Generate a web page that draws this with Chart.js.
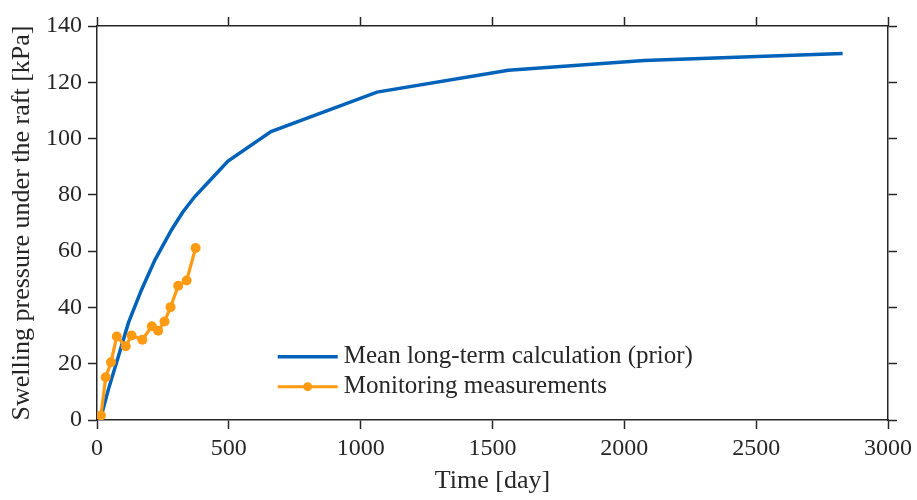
<!DOCTYPE html>
<html>
<head>
<meta charset="utf-8">
<title>Swelling pressure under the raft</title>
<script src="https://cdn.jsdelivr.net/npm/chart.js@4.4.1/dist/chart.umd.min.js"></script>
<style>
  html, body { margin: 0; padding: 0; background: #ffffff; }
  #wrap { position: relative; width: 917px; height: 500px; }
</style>
</head>
<body>
<div id="wrap"><canvas id="pressureChart" width="917" height="500"></canvas></div>
<script>
// --- Data ---
// Mean long-term calculation (prior)
const calcDays = [12, 43, 81, 119, 169, 220, 283, 325, 371, 430, 497, 660, 1062, 1560, 2075, 2828];
const calcPressure = [0, 10.8, 22.6, 34.5, 46.3, 56.9, 67.6, 73.8, 79.4, 85.3, 92.0, 102.5, 116.5, 124.3, 127.7, 130.2];

// Monitoring measurements
const measDays = [15, 33, 53, 75, 109, 131, 172, 208, 232, 256, 279, 308, 340, 374];
const measPressure = [1.6, 15.2, 20.5, 29.7, 26.2, 30.0, 28.5, 33.3, 31.7, 35.0, 40.1, 47.7, 49.6, 61.1];

const seriesLabels = ['Mean long-term calculation (prior)', 'Monitoring measurements'];
const xTitle = 'Time [day]';
const yTitle = 'Swelling pressure under the raft [kPa]';

const BLUE = '#0062b8';
const ORANGE = '#ff9a12';
const AXIS = '#262626';
const FONT = 'Liberation Serif';

const toPoints = (xs, ys) => xs.map((x, i) => ({ x: x, y: ys[i] }));

// --- Legend drawn inside the plot (no box, like the figure) ---
const innerLegend = {
    id: 'innerLegend',
    afterDraw(chart) {
        const c = chart.ctx;
        const x0 = chart.scales.x.getPixelForValue(913);
        const rows = [
            { label: seriesLabels[0], color: BLUE, width: 3.5, marker: false },
            { label: seriesLabels[1], color: ORANGE, width: 3, marker: true }
        ];
        const yStart = chart.scales.y.getPixelForValue(22.5);
        c.save();
        rows.forEach((r, i) => {
            const y = yStart + i * 30;
            c.strokeStyle = r.color;
            c.lineWidth = r.width;
            c.beginPath();
            c.moveTo(x0 - 60, y);
            c.lineTo(x0, y);
            c.stroke();
            if (r.marker) {
                c.fillStyle = r.color;
                c.beginPath();
                c.arc(x0 - 30, y, 4.5, 0, Math.PI * 2);
                c.fill();
            }
            c.fillStyle = AXIS;
            c.font = '25px "' + FONT + '"';
            c.textBaseline = 'middle';
            c.textAlign = 'left';
            c.fillText(r.label, x0 + 6, y);
        });
        c.restore();
    }
};

const tickGrid = { display: true, drawOnChartArea: false, drawTicks: true, tickLength: 9, tickWidth: 1.5, tickColor: AXIS };
const border = { display: true, color: AXIS, width: 1.5 };
const plainNumber = v => String(v);

const ctx = document.getElementById('pressureChart').getContext('2d');
Chart.defaults.font.family = FONT;
Chart.defaults.color = AXIS;

const chart = new Chart(ctx, {
    type: 'line',
    data: {
        datasets: [
            {
                label: seriesLabels[1],
                data: toPoints(measDays, measPressure),
                borderColor: ORANGE,
                backgroundColor: ORANGE,
                borderWidth: 3.2,
                pointRadius: 5,
                pointBorderWidth: 0,
                pointBackgroundColor: ORANGE,
                tension: 0,
                order: 0
            },
            {
                label: seriesLabels[0],
                data: toPoints(calcDays, calcPressure),
                borderColor: BLUE,
                borderWidth: 3.5,
                pointRadius: 0,
                tension: 0,
                order: 1
            }
        ]
    },
    options: {
        responsive: false,
        animation: false,
        layout: { padding: 0 },
        plugins: {
            legend: { display: false },
            tooltip: { enabled: false }
        },
        scales: {
            x: {
                type: 'linear',
                position: 'bottom',
                min: 0, max: 3000,
                ticks: { stepSize: 500, padding: 5, maxRotation: 0, autoSkip: false, font: { size: 24 }, callback: plainNumber },
                grid: tickGrid,
                border: border,
                title: { display: true, text: xTitle, font: { size: 26 }, padding: { top: 0, bottom: 3 } },
                afterFit(scale) { scale.height = 80; }
            },
            x2: {
                type: 'linear',
                position: 'top',
                min: 0, max: 3000,
                ticks: { stepSize: 500, display: false },
                grid: tickGrid,
                border: border,
                afterFit(scale) { scale.height = 26; }
            },
            y: {
                type: 'linear',
                position: 'left',
                min: 0, max: 140,
                ticks: { stepSize: 20, padding: 6, autoSkip: false, font: { size: 24 }, callback: plainNumber },
                grid: tickGrid,
                border: border,
                title: { display: true, text: yTitle, font: { size: 26 }, padding: { top: 7, bottom: 0 } },
                afterFit(scale) { scale.width = 97; }
            },
            y2: {
                type: 'linear',
                position: 'right',
                min: 0, max: 140,
                ticks: { stepSize: 20, display: false },
                grid: tickGrid,
                border: border,
                afterFit(scale) { scale.width = 28; }
            }
        }
    },
    plugins: [innerLegend]
});
</script>
</body>
</html>
